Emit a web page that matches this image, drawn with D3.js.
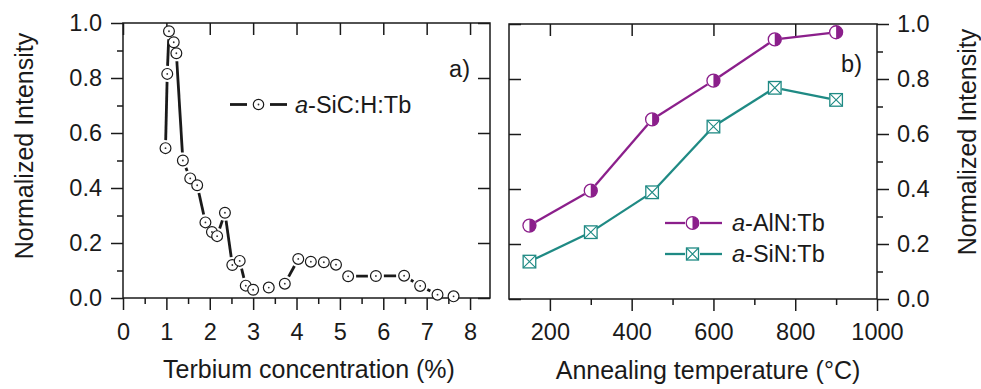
<!DOCTYPE html>
<html><head><meta charset="utf-8">
<script src="https://cdn.jsdelivr.net/npm/d3@7"></script>
<style>
body{margin:0;background:#fff;}
svg text{font-family:"Liberation Sans",Arial,sans-serif;}
</style></head><body>
<svg id="c" width="981" height="389"></svg>
<script>
// ---- data ----
const tbConc = [0.98,1.02,1.06,1.17,1.23,1.38,1.55,1.71,1.90,2.05,2.17,2.35,2.52,2.69,2.83,3.00,3.36,3.73,4.04,4.33,4.63,4.91,5.19,5.83,6.48,6.85,7.25,7.62];
const sicIntensity = [0.545,0.815,0.97,0.93,0.89,0.50,0.435,0.41,0.275,0.24,0.225,0.31,0.12,0.135,0.045,0.03,0.038,0.052,0.142,0.132,0.13,0.121,0.079,0.08,0.081,0.044,0.012,0.006];
const annealTemp = [150,300,450,600,750,900];
const alnIntensity = [0.267,0.394,0.653,0.794,0.944,0.970];
const sinIntensity = [0.136,0.243,0.388,0.627,0.768,0.724];
const yTicks = [0,0.2,0.4,0.6,0.8,1.0];
const yMinor = [0.1,0.3,0.5,0.7,0.9];
const xTicksA = [0,1,2,3,4,5,6,7,8];
const xMinorA = [0.5,1.5,2.5,3.5,4.5,5.5,6.5,7.5];
const xTicksB = [200,400,600,800,1000];
const xMinorB = [300,500,700,900];
const yTitle = "Normalized Intensity";
const xTitleA = "Terbium concentration (%)";
const xTitleB = "Annealing temperature (°C)";

// ---- setup ----
const svg = d3.select("#c");
const SX = 1.0, FS = 23.5, TFS = 25;
const ink = "#1a1a1a";
const purple = "#8b1f8b", teal = "#1f8a84";

const xA = d3.scaleLinear([0, 8.46], [123, 490]);
const yA = d3.scaleLinear([0, 1], [298, 23]);
const xB = d3.scaleLinear([100, 1000], [509, 877]);
const yB = d3.scaleLinear([0, 1], [299, 24]);

function drawAxis(gen, transform, labelY) {
  const g = svg.append("g").attr("transform", transform).call(gen);
  g.attr("font-family", null).attr("font-size", null);
  g.select(".domain").remove();
  g.selectAll("line").attr("stroke", ink).attr("stroke-width", 1.5);
  g.selectAll("text").attr("font-size", FS).attr("fill", ink)
    .each(function () {
      const t = d3.select(this);
      const x = +t.attr("x") || 0;
      t.attr("x", x / SX).attr("transform", `scale(${SX},1)`);
      if (labelY !== undefined) t.attr("y", labelY).attr("dy", null);
    });
  return g;
}
function label(x, y, rot, anchor, size) {
  const g = svg.append("g").attr("transform", `translate(${x},${y}) scale(${SX},1)` + (rot ? ` rotate(${rot})` : ""));
  return g.append("text").attr("text-anchor", anchor).attr("font-size", size).attr("fill", ink);
}
const f1 = d3.format(".1f");

// ---- panel A axes ----
drawAxis(d3.axisBottom(xA).tickValues(xTicksA).tickSize(12).tickFormat(d3.format("d")), "translate(0,298)", 42);
drawAxis(d3.axisBottom(xA).tickValues(xMinorA).tickSize(6).tickFormat(""), "translate(0,298)");
drawAxis(d3.axisLeft(yA).tickValues(yTicks).tickSize(12).tickPadding(9).tickFormat(f1), "translate(123,0)");
drawAxis(d3.axisLeft(yA).tickValues(yMinor).tickSize(6).tickFormat(""), "translate(123,0)");
drawAxis(d3.axisTop(xA).tickValues(xTicksA).tickSize(-12).tickFormat(""), "translate(0,23)");
drawAxis(d3.axisRight(yA).tickValues(yTicks).tickSize(-12).tickFormat(""), "translate(490,0)");
svg.append("rect").attr("x", xA(0)).attr("y", yA(1)).attr("width", xA(8.46) - xA(0)).attr("height", yA(0) - yA(1))
  .attr("fill", "none").attr("stroke", ink).attr("stroke-width", 1.5);

// ---- panel B axes ----
drawAxis(d3.axisBottom(xB).tickValues(xTicksB).tickSize(12).tickFormat(d3.format("d")), "translate(0,299)", 41);
drawAxis(d3.axisBottom(xB).tickValues(xMinorB).tickSize(6).tickFormat(""), "translate(0,299)");
drawAxis(d3.axisTop(xB).tickValues([200,400,600,800]).tickSize(-12).tickFormat(""), "translate(0,24)");
drawAxis(d3.axisLeft(yB).tickValues(yTicks).tickSize(-12).tickFormat(""), "translate(509,0)");
drawAxis(d3.axisRight(yB).tickValues(yTicks).tickSize(12).tickPadding(8).tickFormat(f1), "translate(877,0)");
drawAxis(d3.axisRight(yB).tickValues(yMinor).tickSize(6).tickFormat(""), "translate(877,0)");
svg.append("rect").attr("x", xB(100)).attr("y", yB(1)).attr("width", xB(1000) - xB(100)).attr("height", yB(0) - yB(1))
  .attr("fill", "none").attr("stroke", ink).attr("stroke-width", 1.5);

// ---- titles ----
label(309, 378, 0, "middle", TFS).text(xTitleA);
label(708, 379, 0, "middle", TFS).text(xTitleB);
label(33, 146, -90, "middle", TFS).text(yTitle);
label(976, 142, -90, "middle", TFS).text(yTitle);
label(470, 77, 0, "end", FS).text("a)");
label(862, 72, 0, "end", FS).text("b)");

// ---- gapped line helper ----
function gappedLine(pts, gap, color, width) {
  for (let i = 0; i < pts.length - 1; i++) {
    const [x1, y1] = pts[i], [x2, y2] = pts[i + 1];
    const dx = x2 - x1, dy = y2 - y1, d = Math.hypot(dx, dy);
    if (d <= 2 * gap + 1) continue;
    const ux = dx / d, uy = dy / d;
    svg.append("line")
      .attr("x1", x1 + ux * gap).attr("y1", y1 + uy * gap)
      .attr("x2", x2 - ux * gap).attr("y2", y2 - uy * gap)
      .attr("stroke", color).attr("stroke-width", width).attr("stroke-linecap", "butt");
  }
}
function circleMarker(x, y, r) {
  svg.append("circle").attr("cx", x).attr("cy", y).attr("r", r).attr("fill", "#fff").attr("stroke", ink).attr("stroke-width", 1.2);
  svg.append("circle").attr("cx", x).attr("cy", y).attr("r", 0.9).attr("fill", "#333");
}
function halfMarker(x, y, r) {
  svg.append("circle").attr("cx", x).attr("cy", y).attr("r", r).attr("fill", "#fff").attr("stroke", purple).attr("stroke-width", 1.3);
  svg.append("path").attr("transform", `translate(${x},${y})`).attr("d", `M0,${-r}A${r},${r} 0 0 1 0,${r}Z`).attr("fill", purple);
}
function boxMarker(x, y, h) {
  svg.append("rect").attr("x", x - h).attr("y", y - h).attr("width", 2 * h).attr("height", 2 * h)
    .attr("fill", "#fff").attr("stroke", teal).attr("stroke-width", 1.3);
  svg.append("path").attr("d", `M${x - h},${y - h}L${x + h},${y + h}M${x + h},${y - h}L${x - h},${y + h}`)
    .attr("stroke", teal).attr("stroke-width", 1.1);
}

// ---- panel A data ----
const ptsA = tbConc.map((x, i) => [xA(x), yA(sicIntensity[i])]);
gappedLine(ptsA, 8, ink, 2.8);
ptsA.forEach(([x, y]) => circleMarker(x, y, 5.4));

// ---- panel B data ----
const ptsAl = annealTemp.map((x, i) => [xB(x), yB(alnIntensity[i])]);
const ptsSi = annealTemp.map((x, i) => [xB(x), yB(sinIntensity[i])]);
gappedLine(ptsAl, 7, purple, 2.3);
gappedLine(ptsSi, 7, teal, 2.3);
ptsAl.forEach(([x, y]) => halfMarker(x, y, 6.5));
ptsSi.forEach(([x, y]) => boxMarker(x, y, 6.3));

// ---- legends ----
function legLine(x1, x2, y, color, w) {
  svg.append("line").attr("x1", x1).attr("x2", x2).attr("y1", y).attr("y2", y).attr("stroke", color).attr("stroke-width", w);
}
legLine(230, 247, 104.5, ink, 2.8); legLine(270, 287, 104.5, ink, 2.8);
circleMarker(258.5, 104.5, 5.2);
let t = label(295, 113, 0, "start", FS);
t.append("tspan").attr("font-style", "italic").text("a");
t.append("tspan").text("-SiC:H:Tb");

legLine(665, 685, 223, purple, 2.3); legLine(700, 722, 223, purple, 2.3);
halfMarker(692.5, 223, 6.3);
t = label(732, 231, 0, "start", FS);
t.append("tspan").attr("font-style", "italic").text("a");
t.append("tspan").text("-AlN:Tb");

legLine(665, 685, 254, teal, 2.3); legLine(700, 722, 254, teal, 2.3);
boxMarker(692.5, 254, 6);
t = label(732, 262, 0, "start", FS);
t.append("tspan").attr("font-style", "italic").text("a");
t.append("tspan").text("-SiN:Tb");
</script>
</body></html>
